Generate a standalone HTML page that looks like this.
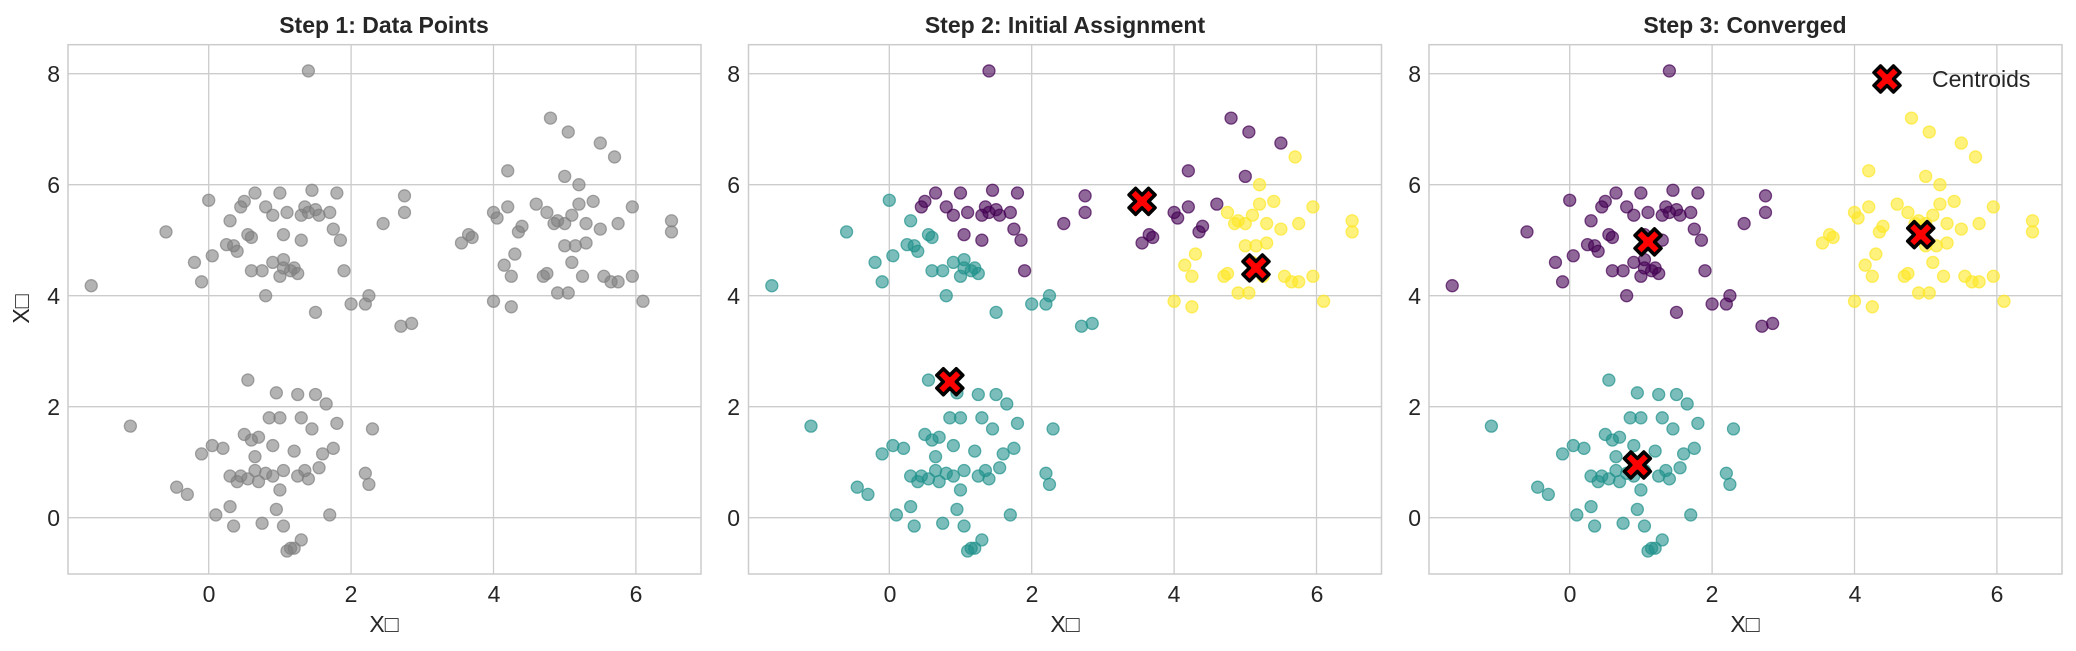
<!DOCTYPE html>
<html><head><meta charset="utf-8"><style>
html,body{margin:0;padding:0;background:#fff;}
svg{display:block;font-family:"Liberation Sans","DejaVu Sans",sans-serif;}
.t{font-size:23px;fill:#262626;}
.ti{font-size:23px;font-weight:bold;fill:#262626;}
.g{stroke:#cccccc;stroke-width:1.3;}
</style></head><body>
<svg id="s" width="2076" height="651" viewBox="0 0 2076 651" xmlns="http://www.w3.org/2000/svg">
<g id="axes"></g>
<g id="pts"></g>
<text class="ti" x="384" y="33" text-anchor="middle">Step 1: Data Points</text>
<text class="ti" x="1065" y="33" text-anchor="middle">Step 2: Initial Assignment</text>
<text class="ti" x="1745" y="33" text-anchor="middle">Step 3: Converged</text>
<g class="t" text-anchor="end">
<text x="60" y="526">0</text><text x="60" y="415">2</text><text x="60" y="304">4</text><text x="60" y="193">6</text><text x="60" y="82">8</text>
<text x="740" y="526">0</text><text x="740" y="415">2</text><text x="740" y="304">4</text><text x="740" y="193">6</text><text x="740" y="82">8</text>
<text x="1421" y="526">0</text><text x="1421" y="415">2</text><text x="1421" y="304">4</text><text x="1421" y="193">6</text><text x="1421" y="82">8</text>
</g>
<g class="t" text-anchor="middle">
<text x="209" y="602">0</text><text x="351" y="602">2</text><text x="494" y="602">4</text><text x="636" y="602">6</text>
<text x="890" y="602">0</text><text x="1032" y="602">2</text><text x="1174" y="602">4</text><text x="1317" y="602">6</text>
<text x="1570" y="602">0</text><text x="1712" y="602">2</text><text x="1855" y="602">4</text><text x="1997" y="602">6</text>
<text x="384" y="632">X□</text><text x="1065" y="632">X□</text><text x="1745" y="632">X□</text>
<text transform="translate(29,309) rotate(-90)">X□</text>
<text x="1932" y="87" text-anchor="start">Centroids</text>
</g>
<g id="cent"></g>
</svg>
<script>
var P=[[68,208.7],[748.5,889.3],[1429,1569.7]];
var ns="http://www.w3.org/2000/svg";
function el(p,t,a){var e=document.createElementNS(ns,t);for(var k in a)e.setAttribute(k,a[k]);document.getElementById(p).appendChild(e);return e;}
var s=71.2,y0=517.7,ys=55.5;
P.forEach(function(p){
 var L=p[0],R=L+633,T=44.7,B=574;
 for(var i=0;i<=6;i+=2){var x=p[1]+s*i;el('axes','line',{x1:x,x2:x,y1:T,y2:B,class:'g'});}
 for(var j=0;j<=8;j+=2){var y=y0-ys*j;el('axes','line',{x1:L,x2:R,y1:y,y2:y,class:'g'});}
 el('axes','rect',{x:L,y:T,width:633,height:B-T,fill:'none',stroke:'#cccccc','stroke-width':1.5});
});
var D=[[1.4,8.05],[-1.65,4.18],[-0.6,5.15],[-0.2,4.6],[-0.1,4.25],[0,5.72],[0.05,4.72],[0.25,4.92],[0.3,5.35],[0.35,4.9],[0.4,4.8],[0.45,5.6],[0.5,5.7],[0.55,5.1],[0.6,5.05],[0.65,5.85],[0.6,4.45],[0.8,5.6],[0.8,4.0],[0.9,5.45],[0.9,4.6],[1.0,5.85],[1.0,4.35],[1.05,4.65],[1.05,4.5],[1.1,5.5],[1.15,4.45],[1.2,4.5],[1.25,4.4],[1.3,5.45],[1.35,5.6],[1.4,5.5],[1.45,5.9],[1.5,5.55],[1.5,3.7],[1.55,5.45],[1.7,5.5],[1.75,5.2],[1.8,5.85],[1.85,5.0],[1.9,4.45],[2.0,3.85],[2.2,3.85],[2.25,4.0],[2.45,5.3],[2.7,3.45],[2.75,5.5],[2.75,5.8],[2.85,3.5],[0.75,4.45],[1.3,5.0],[1.05,5.1],
[3.55,4.95],[3.65,5.1],[3.7,5.05],[4.0,3.9],[4.0,5.5],[4.05,5.4],[4.15,4.55],[4.2,5.6],[4.2,6.25],[4.25,4.35],[4.25,3.8],[4.3,4.75],[4.35,5.15],[4.6,5.65],[4.7,4.35],[4.75,5.5],[4.75,4.4],[4.8,7.2],[4.85,5.3],[4.9,5.35],[4.9,4.05],[5.0,6.15],[5.0,5.3],[5.05,4.05],[5.05,6.95],[5.1,4.6],[5.1,5.45],[5.15,4.9],[5.2,5.65],[5.2,6.0],[5.25,4.35],[5.3,5.3],[5.3,4.95],[5.5,5.2],[5.5,6.75],[5.55,4.35],[5.65,4.25],[5.7,6.5],[5.75,5.3],[5.75,4.25],[5.95,5.6],[5.95,4.35],[6.1,3.9],[6.5,5.35],[6.5,5.15],[5.0,4.9],[4.4,5.25],[5.4,5.7],
[-1.1,1.65],[-0.45,0.55],[-0.3,0.42],[-0.1,1.15],[0.05,1.3],[0.1,0.05],[0.2,1.25],[0.3,0.75],[0.35,-0.15],[0.4,0.65],[0.45,0.75],[0.5,1.5],[0.55,0.7],[0.55,2.48],[0.6,1.4],[0.65,0.85],[0.65,1.1],[0.7,0.65],[0.7,1.45],[0.75,-0.1],[0.8,0.8],[0.85,1.8],[0.9,0.75],[0.95,2.25],[0.95,0.15],[1.0,1.8],[1.05,0.85],[1.05,-0.15],[1.1,-0.6],[1.15,-0.55],[1.2,-0.55],[1.2,1.2],[1.25,2.22],[1.25,0.75],[1.3,-0.4],[1.35,0.85],[1.4,0.7],[1.45,1.6],[1.5,2.22],[1.55,0.9],[1.6,1.15],[1.65,2.05],[1.7,0.05],[1.75,1.25],[1.8,1.7],[2.2,0.8],[2.25,0.6],[2.3,1.6],[1.0,0.5],[1.3,1.8],[0.3,0.2],[0.9,1.3]];
var C2=[[3.55,5.7],[5.15,4.5],[0.85,2.45]],C3=[[1.1,4.97],[4.93,5.1],[0.95,0.95]];
var col=['#440154','#fde725','#21918c'];
function near(C,d){var b=0,bd=1e9;C.forEach(function(c,i){var q=(c[0]-d[0])*(c[0]-d[0])+(c[1]-d[1])*(c[1]-d[1]);if(q<bd){bd=q;b=i;}});return b;}
D.forEach(function(d){
 var y=y0-ys*d[1];
 el('pts','circle',{cx:P[0][1]+s*d[0],cy:y,r:6,fill:'#808080','fill-opacity':0.6,stroke:'#808080','stroke-opacity':0.7,'stroke-width':1.3});
 var c=col[near(C2,d)];
 el('pts','circle',{cx:P[1][1]+s*d[0],cy:y,r:6,fill:c,'fill-opacity':0.6,stroke:c,'stroke-opacity':0.7,'stroke-width':1.3});
 c=col[near(C3,d)];
 el('pts','circle',{cx:P[2][1]+s*d[0],cy:y,r:6,fill:c,'fill-opacity':0.6,stroke:c,'stroke-opacity':0.7,'stroke-width':1.3});
});
function X(cx,cy){
 var a=4.2,b=10;
 var pts=[[-b,-b+a*1.2],[-b+a*1.2,-b],[0,-a*1.2],[b-a*1.2,-b],[b,-b+a*1.2],[a*1.2,0],[b,b-a*1.2],[b-a*1.2,b],[0,a*1.2],[-b+a*1.2,b],[-b,b-a*1.2],[-a*1.2,0]];
 el('cent','polygon',{points:pts.map(function(p){return (cx+p[0]*1.3)+','+(cy+p[1]*1.3)}).join(' '),fill:'#ff0000',stroke:'#000','stroke-width':3.5,'stroke-linejoin':'round'});
}
C2.forEach(function(c){X(P[1][1]+s*c[0],y0-ys*c[1]);});
C3.forEach(function(c){X(P[2][1]+s*c[0],y0-ys*c[1]);});
X(1887,79);
</script>
</body></html>
